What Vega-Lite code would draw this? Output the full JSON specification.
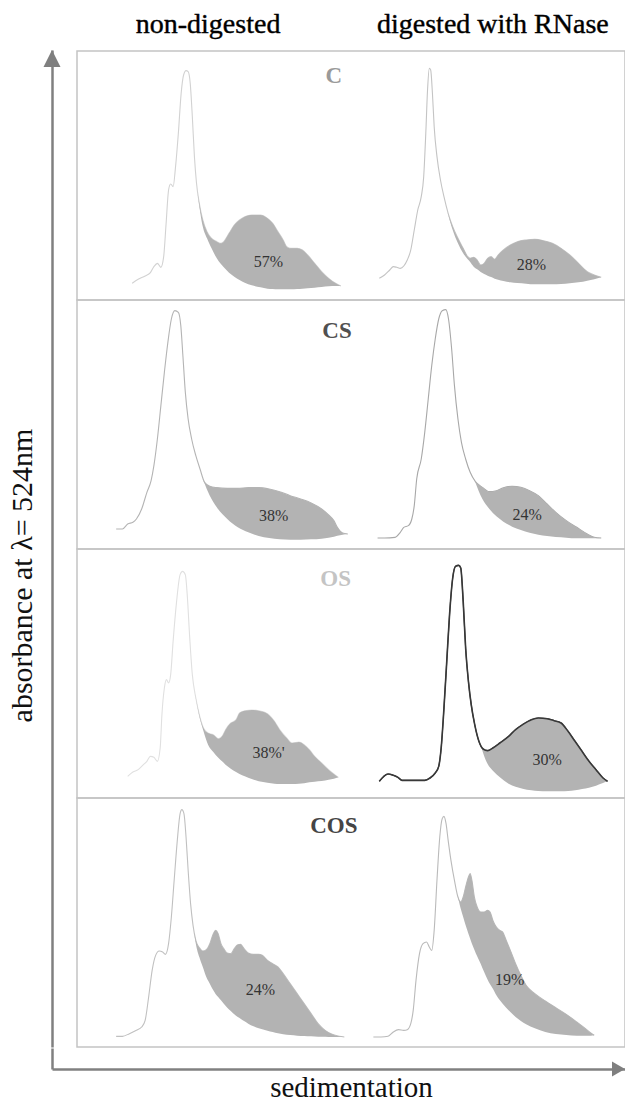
{
  "$schema": "https://vega.github.io/schema/vega-lite/v6.json",
  "padding": 0,
  "background": "white",
  "bounds": "full",
  "spacing": 0,
  "config": {"view": {"stroke": null}, "font": "Liberation Serif", "legend": {"disable": true}},
  "vconcat": [
    {
      "bounds": "flush",
      "spacing": 25,
      "hconcat": [
        {
          "width": 52,
          "height": 1047,
          "data": {"values": [{"axis": "absorbance"}]},
          "mark": {"type": "point", "shape": "M0,0L0.5,1L-0.5,1Z", "filled": true, "size": 1156, "color": "#7f7f7f", "opacity": 1, "strokeWidth": 0},
          "encoding": {
            "x": {"datum": 1, "type": "quantitative", "scale": {"domain": [0, 1], "nice": false}, "axis": null},
            "y": {"datum": 1, "type": "quantitative", "scale": {"domain": [0, 1], "range": [1047, 50], "nice": false},
              "axis": {"orient": "right", "domain": true, "domainColor": "#808080", "domainWidth": 2.5, "ticks": false, "labels": false, "grid": false,
                "title": "absorbance at λ= 524nm", "titleFont": "Liberation Serif", "titleFontSize": 30, "titleFontWeight": "normal", "titleColor": "#111111",
                "titleAngle": 270, "titleX": -30, "titleY": 575, "titleAlign": "center", "titleBaseline": "middle"}}
          }
        },
        {
          "bounds": "flush",
          "spacing": 0,
          "vconcat": [
            {
              "width": 548,
              "height": 51,
              "data": {"values": [{"panel": "header"}]},
              "layer": [
                {
                  "mark": {"type": "text", "text": "non-digested", "font": "Liberation Serif", "fontSize": 28, "fontWeight": "normal", "align": "center", "baseline": "alphabetic", "color": "#000000", "stroke": "#000000", "strokeWidth": 0.4},
                  "encoding": {
                    "x": {"datum": 375, "type": "quantitative", "scale": {"domain": [0, 1568], "nice": false}, "axis": null},
                    "y": {"datum": 0.35, "type": "quantitative", "scale": {"domain": [0, 1], "nice": false}, "axis": null}
                  }
                },
                {
                  "mark": {"type": "text", "text": "digested with RNase", "font": "Liberation Serif", "fontSize": 28, "fontWeight": "normal", "align": "center", "baseline": "alphabetic", "color": "#000000", "stroke": "#000000", "strokeWidth": 0.4},
                  "encoding": {
                    "x": {"datum": 1190, "type": "quantitative", "scale": {"domain": [0, 1568], "nice": false}, "axis": null},
                    "y": {"datum": 0.35, "type": "quantitative", "scale": {"domain": [0, 1], "nice": false}, "axis": null}
                  }
                }
              ]
            },
            {
              "data": {"values": [
{"s":"C","c":"n","k":"p","x":158,"a":50},{"s":"C","c":"n","k":"p","x":175,"a":62},{"s":"C","c":"n","k":"p","x":195,"a":72},{"s":"C","c":"n","k":"p","x":210,"a":82},{"s":"C","c":"n","k":"p","x":220,"a":100},{"s":"C","c":"n","k":"p","x":230,"a":110},{"s":"C","c":"n","k":"p","x":240,"a":98},{"s":"C","c":"n","k":"p","x":248,"a":130},{"s":"C","c":"n","k":"p","x":255,"a":230},{"s":"C","c":"n","k":"p","x":262,"a":330},{"s":"C","c":"n","k":"p","x":268,"a":348},{"s":"C","c":"n","k":"p","x":275,"a":340},{"s":"C","c":"n","k":"p","x":282,"a":400},{"s":"C","c":"n","k":"p","x":290,"a":500},{"s":"C","c":"n","k":"p","x":298,"a":620},{"s":"C","c":"n","k":"p","x":305,"a":675},{"s":"C","c":"n","k":"p","x":312,"a":688},{"s":"C","c":"n","k":"p","x":318,"a":685},{"s":"C","c":"n","k":"p","x":324,"a":650},{"s":"C","c":"n","k":"p","x":330,"a":550},{"s":"C","c":"n","k":"p","x":336,"a":430},{"s":"C","c":"n","k":"p","x":342,"a":350},{"s":"C","c":"n","k":"p","x":350,"a":290},{"s":"C","c":"n","k":"p","x":360,"a":240},{"s":"C","c":"n","k":"p","x":372,"a":205},{"s":"C","c":"n","k":"p","x":385,"a":185},{"s":"C","c":"n","k":"p","x":400,"a":175},{"s":"C","c":"n","k":"p","x":410,"a":170},{"s":"C","c":"n","k":"p","x":420,"a":175},{"s":"C","c":"n","k":"p","x":435,"a":200},{"s":"C","c":"n","k":"p","x":450,"a":225},{"s":"C","c":"n","k":"p","x":465,"a":240},{"s":"C","c":"n","k":"p","x":480,"a":250},{"s":"C","c":"n","k":"p","x":500,"a":255},{"s":"C","c":"n","k":"p","x":525,"a":255},{"s":"C","c":"n","k":"p","x":545,"a":245},{"s":"C","c":"n","k":"p","x":560,"a":230},{"s":"C","c":"n","k":"p","x":575,"a":205},{"s":"C","c":"n","k":"p","x":590,"a":180},{"s":"C","c":"n","k":"p","x":600,"a":160},{"s":"C","c":"n","k":"p","x":612,"a":155},{"s":"C","c":"n","k":"p","x":630,"a":155},{"s":"C","c":"n","k":"p","x":645,"a":150},{"s":"C","c":"n","k":"p","x":660,"a":135},{"s":"C","c":"n","k":"p","x":680,"a":110},{"s":"C","c":"n","k":"p","x":700,"a":85},{"s":"C","c":"n","k":"p","x":720,"a":65},{"s":"C","c":"n","k":"p","x":740,"a":50},{"s":"C","c":"n","k":"p","x":755,"a":42},
{"s":"C","c":"d","k":"p","x":865,"a":65},{"s":"C","c":"d","k":"p","x":880,"a":75},{"s":"C","c":"d","k":"p","x":895,"a":90},{"s":"C","c":"d","k":"p","x":905,"a":100},{"s":"C","c":"d","k":"p","x":915,"a":98},{"s":"C","c":"d","k":"p","x":925,"a":95},{"s":"C","c":"d","k":"p","x":935,"a":102},{"s":"C","c":"d","k":"p","x":945,"a":120},{"s":"C","c":"d","k":"p","x":955,"a":150},{"s":"C","c":"d","k":"p","x":965,"a":210},{"s":"C","c":"d","k":"p","x":975,"a":270},{"s":"C","c":"d","k":"p","x":985,"a":310},{"s":"C","c":"d","k":"p","x":992,"a":370},{"s":"C","c":"d","k":"p","x":998,"a":500},{"s":"C","c":"d","k":"p","x":1003,"a":630},{"s":"C","c":"d","k":"p","x":1008,"a":695},{"s":"C","c":"d","k":"p","x":1012,"a":690},{"s":"C","c":"d","k":"p","x":1017,"a":620},{"s":"C","c":"d","k":"p","x":1022,"a":520},{"s":"C","c":"d","k":"p","x":1030,"a":430},{"s":"C","c":"d","k":"p","x":1040,"a":360},{"s":"C","c":"d","k":"p","x":1050,"a":310},{"s":"C","c":"d","k":"p","x":1062,"a":260},{"s":"C","c":"d","k":"p","x":1075,"a":220},{"s":"C","c":"d","k":"p","x":1090,"a":185},{"s":"C","c":"d","k":"p","x":1105,"a":155},{"s":"C","c":"d","k":"p","x":1118,"a":130},{"s":"C","c":"d","k":"p","x":1125,"a":125},{"s":"C","c":"d","k":"p","x":1135,"a":128},{"s":"C","c":"d","k":"p","x":1145,"a":120},{"s":"C","c":"d","k":"p","x":1155,"a":105},{"s":"C","c":"d","k":"p","x":1165,"a":110},{"s":"C","c":"d","k":"p","x":1175,"a":125},{"s":"C","c":"d","k":"p","x":1185,"a":130},{"s":"C","c":"d","k":"p","x":1195,"a":122},{"s":"C","c":"d","k":"p","x":1205,"a":135},{"s":"C","c":"d","k":"p","x":1220,"a":150},{"s":"C","c":"d","k":"p","x":1240,"a":165},{"s":"C","c":"d","k":"p","x":1260,"a":175},{"s":"C","c":"d","k":"p","x":1285,"a":180},{"s":"C","c":"d","k":"p","x":1310,"a":182},{"s":"C","c":"d","k":"p","x":1335,"a":178},{"s":"C","c":"d","k":"p","x":1360,"a":170},{"s":"C","c":"d","k":"p","x":1385,"a":155},{"s":"C","c":"d","k":"p","x":1410,"a":135},{"s":"C","c":"d","k":"p","x":1435,"a":110},{"s":"C","c":"d","k":"p","x":1460,"a":85},{"s":"C","c":"d","k":"p","x":1480,"a":75},{"s":"C","c":"d","k":"p","x":1500,"a":68},
{"s":"CS","c":"n","k":"p","x":112,"a":60},{"s":"CS","c":"n","k":"p","x":130,"a":60},{"s":"CS","c":"n","k":"p","x":145,"a":75},{"s":"CS","c":"n","k":"p","x":160,"a":80},{"s":"CS","c":"n","k":"p","x":170,"a":90},{"s":"CS","c":"n","k":"p","x":185,"a":120},{"s":"CS","c":"n","k":"p","x":200,"a":170},{"s":"CS","c":"n","k":"p","x":212,"a":205},{"s":"CS","c":"n","k":"p","x":220,"a":250},{"s":"CS","c":"n","k":"p","x":230,"a":330},{"s":"CS","c":"n","k":"p","x":240,"a":430},{"s":"CS","c":"n","k":"p","x":250,"a":530},{"s":"CS","c":"n","k":"p","x":260,"a":620},{"s":"CS","c":"n","k":"p","x":270,"a":690},{"s":"CS","c":"n","k":"p","x":280,"a":715},{"s":"CS","c":"n","k":"p","x":290,"a":710},{"s":"CS","c":"n","k":"p","x":297,"a":670},{"s":"CS","c":"n","k":"p","x":303,"a":580},{"s":"CS","c":"n","k":"p","x":310,"a":470},{"s":"CS","c":"n","k":"p","x":318,"a":390},{"s":"CS","c":"n","k":"p","x":328,"a":330},{"s":"CS","c":"n","k":"p","x":340,"a":280},{"s":"CS","c":"n","k":"p","x":352,"a":240},{"s":"CS","c":"n","k":"p","x":365,"a":200},{"s":"CS","c":"n","k":"p","x":380,"a":188},{"s":"CS","c":"n","k":"p","x":400,"a":184},{"s":"CS","c":"n","k":"p","x":430,"a":182},{"s":"CS","c":"n","k":"p","x":460,"a":182},{"s":"CS","c":"n","k":"p","x":490,"a":184},{"s":"CS","c":"n","k":"p","x":520,"a":184},{"s":"CS","c":"n","k":"p","x":550,"a":180},{"s":"CS","c":"n","k":"p","x":580,"a":172},{"s":"CS","c":"n","k":"p","x":610,"a":160},{"s":"CS","c":"n","k":"p","x":640,"a":150},{"s":"CS","c":"n","k":"p","x":670,"a":138},{"s":"CS","c":"n","k":"p","x":700,"a":120},{"s":"CS","c":"n","k":"p","x":720,"a":102},{"s":"CS","c":"n","k":"p","x":735,"a":85},{"s":"CS","c":"n","k":"p","x":745,"a":65},{"s":"CS","c":"n","k":"p","x":760,"a":48},{"s":"CS","c":"n","k":"p","x":775,"a":45},
{"s":"CS","c":"d","k":"p","x":860,"a":33},{"s":"CS","c":"d","k":"p","x":880,"a":33},{"s":"CS","c":"d","k":"p","x":910,"a":35},{"s":"CS","c":"d","k":"p","x":925,"a":50},{"s":"CS","c":"d","k":"p","x":935,"a":65},{"s":"CS","c":"d","k":"p","x":948,"a":70},{"s":"CS","c":"d","k":"p","x":958,"a":90},{"s":"CS","c":"d","k":"p","x":965,"a":130},{"s":"CS","c":"d","k":"p","x":972,"a":210},{"s":"CS","c":"d","k":"p","x":985,"a":270},{"s":"CS","c":"d","k":"p","x":995,"a":350},{"s":"CS","c":"d","k":"p","x":1005,"a":450},{"s":"CS","c":"d","k":"p","x":1015,"a":550},{"s":"CS","c":"d","k":"p","x":1025,"a":630},{"s":"CS","c":"d","k":"p","x":1035,"a":690},{"s":"CS","c":"d","k":"p","x":1045,"a":715},{"s":"CS","c":"d","k":"p","x":1055,"a":718},{"s":"CS","c":"d","k":"p","x":1063,"a":690},{"s":"CS","c":"d","k":"p","x":1072,"a":600},{"s":"CS","c":"d","k":"p","x":1080,"a":490},{"s":"CS","c":"d","k":"p","x":1090,"a":390},{"s":"CS","c":"d","k":"p","x":1100,"a":320},{"s":"CS","c":"d","k":"p","x":1112,"a":270},{"s":"CS","c":"d","k":"p","x":1125,"a":230},{"s":"CS","c":"d","k":"p","x":1140,"a":202},{"s":"CS","c":"d","k":"p","x":1160,"a":185},{"s":"CS","c":"d","k":"p","x":1180,"a":172},{"s":"CS","c":"d","k":"p","x":1200,"a":175},{"s":"CS","c":"d","k":"p","x":1220,"a":184},{"s":"CS","c":"d","k":"p","x":1245,"a":188},{"s":"CS","c":"d","k":"p","x":1270,"a":185},{"s":"CS","c":"d","k":"p","x":1295,"a":175},{"s":"CS","c":"d","k":"p","x":1320,"a":160},{"s":"CS","c":"d","k":"p","x":1345,"a":135},{"s":"CS","c":"d","k":"p","x":1370,"a":110},{"s":"CS","c":"d","k":"p","x":1400,"a":85},{"s":"CS","c":"d","k":"p","x":1430,"a":65},{"s":"CS","c":"d","k":"p","x":1460,"a":45},{"s":"CS","c":"d","k":"p","x":1480,"a":35},{"s":"CS","c":"d","k":"p","x":1500,"a":33},
{"s":"OS","c":"n","k":"p","x":145,"a":65},{"s":"OS","c":"n","k":"p","x":160,"a":78},{"s":"OS","c":"n","k":"p","x":175,"a":85},{"s":"OS","c":"n","k":"p","x":190,"a":100},{"s":"OS","c":"n","k":"p","x":200,"a":110},{"s":"OS","c":"n","k":"p","x":210,"a":125},{"s":"OS","c":"n","k":"p","x":220,"a":122},{"s":"OS","c":"n","k":"p","x":230,"a":110},{"s":"OS","c":"n","k":"p","x":238,"a":150},{"s":"OS","c":"n","k":"p","x":243,"a":250},{"s":"OS","c":"n","k":"p","x":250,"a":330},{"s":"OS","c":"n","k":"p","x":256,"a":355},{"s":"OS","c":"n","k":"p","x":262,"a":345},{"s":"OS","c":"n","k":"p","x":268,"a":370},{"s":"OS","c":"n","k":"p","x":275,"a":470},{"s":"OS","c":"n","k":"p","x":285,"a":590},{"s":"OS","c":"n","k":"p","x":295,"a":670},{"s":"OS","c":"n","k":"p","x":302,"a":680},{"s":"OS","c":"n","k":"p","x":310,"a":670},{"s":"OS","c":"n","k":"p","x":316,"a":600},{"s":"OS","c":"n","k":"p","x":322,"a":490},{"s":"OS","c":"n","k":"p","x":330,"a":370},{"s":"OS","c":"n","k":"p","x":340,"a":300},{"s":"OS","c":"n","k":"p","x":350,"a":250},{"s":"OS","c":"n","k":"p","x":362,"a":210},{"s":"OS","c":"n","k":"p","x":375,"a":195},{"s":"OS","c":"n","k":"p","x":390,"a":190},{"s":"OS","c":"n","k":"p","x":405,"a":178},{"s":"OS","c":"n","k":"p","x":415,"a":185},{"s":"OS","c":"n","k":"p","x":425,"a":205},{"s":"OS","c":"n","k":"p","x":440,"a":225},{"s":"OS","c":"n","k":"p","x":455,"a":235},{"s":"OS","c":"n","k":"p","x":465,"a":255},{"s":"OS","c":"n","k":"p","x":480,"a":262},{"s":"OS","c":"n","k":"p","x":500,"a":264},{"s":"OS","c":"n","k":"p","x":520,"a":262},{"s":"OS","c":"n","k":"p","x":545,"a":253},{"s":"OS","c":"n","k":"p","x":565,"a":230},{"s":"OS","c":"n","k":"p","x":580,"a":205},{"s":"OS","c":"n","k":"p","x":600,"a":180},{"s":"OS","c":"n","k":"p","x":615,"a":165},{"s":"OS","c":"n","k":"p","x":635,"a":168},{"s":"OS","c":"n","k":"p","x":650,"a":160},{"s":"OS","c":"n","k":"p","x":665,"a":145},{"s":"OS","c":"n","k":"p","x":680,"a":125},{"s":"OS","c":"n","k":"p","x":700,"a":105},{"s":"OS","c":"n","k":"p","x":720,"a":85},{"s":"OS","c":"n","k":"p","x":735,"a":72},{"s":"OS","c":"n","k":"p","x":748,"a":62},
{"s":"OS","c":"d","k":"p","x":865,"a":50},{"s":"OS","c":"d","k":"p","x":878,"a":65},{"s":"OS","c":"d","k":"p","x":890,"a":72},{"s":"OS","c":"d","k":"p","x":905,"a":68},{"s":"OS","c":"d","k":"p","x":918,"a":62},{"s":"OS","c":"d","k":"p","x":930,"a":53},{"s":"OS","c":"d","k":"p","x":960,"a":53},{"s":"OS","c":"d","k":"p","x":995,"a":53},{"s":"OS","c":"d","k":"p","x":1010,"a":60},{"s":"OS","c":"d","k":"p","x":1025,"a":75},{"s":"OS","c":"d","k":"p","x":1035,"a":95},{"s":"OS","c":"d","k":"p","x":1042,"a":150},{"s":"OS","c":"d","k":"p","x":1050,"a":270},{"s":"OS","c":"d","k":"p","x":1058,"a":410},{"s":"OS","c":"d","k":"p","x":1066,"a":550},{"s":"OS","c":"d","k":"p","x":1075,"a":660},{"s":"OS","c":"d","k":"p","x":1083,"a":695},{"s":"OS","c":"d","k":"p","x":1092,"a":698},{"s":"OS","c":"d","k":"p","x":1098,"a":690},{"s":"OS","c":"d","k":"p","x":1105,"a":590},{"s":"OS","c":"d","k":"p","x":1112,"a":450},{"s":"OS","c":"d","k":"p","x":1120,"a":350},{"s":"OS","c":"d","k":"p","x":1128,"a":280},{"s":"OS","c":"d","k":"p","x":1138,"a":220},{"s":"OS","c":"d","k":"p","x":1150,"a":170},{"s":"OS","c":"d","k":"p","x":1162,"a":147},{"s":"OS","c":"d","k":"p","x":1175,"a":142},{"s":"OS","c":"d","k":"p","x":1190,"a":150},{"s":"OS","c":"d","k":"p","x":1210,"a":165},{"s":"OS","c":"d","k":"p","x":1235,"a":185},{"s":"OS","c":"d","k":"p","x":1255,"a":205},{"s":"OS","c":"d","k":"p","x":1275,"a":220},{"s":"OS","c":"d","k":"p","x":1300,"a":235},{"s":"OS","c":"d","k":"p","x":1320,"a":240},{"s":"OS","c":"d","k":"p","x":1345,"a":238},{"s":"OS","c":"d","k":"p","x":1365,"a":232},{"s":"OS","c":"d","k":"p","x":1385,"a":225},{"s":"OS","c":"d","k":"p","x":1405,"a":200},{"s":"OS","c":"d","k":"p","x":1425,"a":170},{"s":"OS","c":"d","k":"p","x":1445,"a":140},{"s":"OS","c":"d","k":"p","x":1465,"a":110},{"s":"OS","c":"d","k":"p","x":1485,"a":85},{"s":"OS","c":"d","k":"p","x":1505,"a":60},{"s":"OS","c":"d","k":"p","x":1518,"a":50},
{"s":"COS","c":"n","k":"p","x":112,"a":32},{"s":"COS","c":"n","k":"p","x":130,"a":32},{"s":"COS","c":"n","k":"p","x":150,"a":40},{"s":"COS","c":"n","k":"p","x":170,"a":50},{"s":"COS","c":"n","k":"p","x":185,"a":60},{"s":"COS","c":"n","k":"p","x":195,"a":80},{"s":"COS","c":"n","k":"p","x":205,"a":150},{"s":"COS","c":"n","k":"p","x":215,"a":230},{"s":"COS","c":"n","k":"p","x":225,"a":275},{"s":"COS","c":"n","k":"p","x":235,"a":288},{"s":"COS","c":"n","k":"p","x":245,"a":285},{"s":"COS","c":"n","k":"p","x":253,"a":278},{"s":"COS","c":"n","k":"p","x":262,"a":310},{"s":"COS","c":"n","k":"p","x":270,"a":390},{"s":"COS","c":"n","k":"p","x":278,"a":500},{"s":"COS","c":"n","k":"p","x":287,"a":620},{"s":"COS","c":"n","k":"p","x":295,"a":700},{"s":"COS","c":"n","k":"p","x":300,"a":712},{"s":"COS","c":"n","k":"p","x":306,"a":700},{"s":"COS","c":"n","k":"p","x":312,"a":630},{"s":"COS","c":"n","k":"p","x":318,"a":530},{"s":"COS","c":"n","k":"p","x":325,"a":430},{"s":"COS","c":"n","k":"p","x":332,"a":365},{"s":"COS","c":"n","k":"p","x":340,"a":320},{"s":"COS","c":"n","k":"p","x":350,"a":298},{"s":"COS","c":"n","k":"p","x":360,"a":288},{"s":"COS","c":"n","k":"p","x":370,"a":292},{"s":"COS","c":"n","k":"p","x":380,"a":310},{"s":"COS","c":"n","k":"p","x":390,"a":340},{"s":"COS","c":"n","k":"p","x":397,"a":350},{"s":"COS","c":"n","k":"p","x":404,"a":340},{"s":"COS","c":"n","k":"p","x":412,"a":310},{"s":"COS","c":"n","k":"p","x":420,"a":295},{"s":"COS","c":"n","k":"p","x":430,"a":282},{"s":"COS","c":"n","k":"p","x":440,"a":280},{"s":"COS","c":"n","k":"p","x":450,"a":295},{"s":"COS","c":"n","k":"p","x":460,"a":307},{"s":"COS","c":"n","k":"p","x":468,"a":308},{"s":"COS","c":"n","k":"p","x":478,"a":295},{"s":"COS","c":"n","k":"p","x":490,"a":282},{"s":"COS","c":"n","k":"p","x":505,"a":278},{"s":"COS","c":"n","k":"p","x":520,"a":278},{"s":"COS","c":"n","k":"p","x":530,"a":275},{"s":"COS","c":"n","k":"p","x":545,"a":260},{"s":"COS","c":"n","k":"p","x":560,"a":250},{"s":"COS","c":"n","k":"p","x":575,"a":240},{"s":"COS","c":"n","k":"p","x":590,"a":220},{"s":"COS","c":"n","k":"p","x":610,"a":190},{"s":"COS","c":"n","k":"p","x":630,"a":160},{"s":"COS","c":"n","k":"p","x":650,"a":130},{"s":"COS","c":"n","k":"p","x":670,"a":100},{"s":"COS","c":"n","k":"p","x":690,"a":70},{"s":"COS","c":"n","k":"p","x":710,"a":50},{"s":"COS","c":"n","k":"p","x":730,"a":38},{"s":"COS","c":"n","k":"p","x":750,"a":32},{"s":"COS","c":"n","k":"p","x":765,"a":30},
{"s":"COS","c":"d","k":"p","x":848,"a":30},{"s":"COS","c":"d","k":"p","x":870,"a":30},{"s":"COS","c":"d","k":"p","x":890,"a":32},{"s":"COS","c":"d","k":"p","x":905,"a":45},{"s":"COS","c":"d","k":"p","x":920,"a":52},{"s":"COS","c":"d","k":"p","x":935,"a":50},{"s":"COS","c":"d","k":"p","x":945,"a":52},{"s":"COS","c":"d","k":"p","x":955,"a":70},{"s":"COS","c":"d","k":"p","x":962,"a":110},{"s":"COS","c":"d","k":"p","x":970,"a":200},{"s":"COS","c":"d","k":"p","x":980,"a":280},{"s":"COS","c":"d","k":"p","x":990,"a":310},{"s":"COS","c":"d","k":"p","x":1000,"a":315},{"s":"COS","c":"d","k":"p","x":1008,"a":300},{"s":"COS","c":"d","k":"p","x":1015,"a":290},{"s":"COS","c":"d","k":"p","x":1022,"a":350},{"s":"COS","c":"d","k":"p","x":1030,"a":500},{"s":"COS","c":"d","k":"p","x":1038,"a":630},{"s":"COS","c":"d","k":"p","x":1045,"a":685},{"s":"COS","c":"d","k":"p","x":1050,"a":692},{"s":"COS","c":"d","k":"p","x":1056,"a":670},{"s":"COS","c":"d","k":"p","x":1062,"a":620},{"s":"COS","c":"d","k":"p","x":1070,"a":560},{"s":"COS","c":"d","k":"p","x":1080,"a":500},{"s":"COS","c":"d","k":"p","x":1090,"a":450},{"s":"COS","c":"d","k":"p","x":1098,"a":435},{"s":"COS","c":"d","k":"p","x":1105,"a":450},{"s":"COS","c":"d","k":"p","x":1112,"a":480},{"s":"COS","c":"d","k":"p","x":1120,"a":510},{"s":"COS","c":"d","k":"p","x":1125,"a":520},{"s":"COS","c":"d","k":"p","x":1130,"a":500},{"s":"COS","c":"d","k":"p","x":1137,"a":450},{"s":"COS","c":"d","k":"p","x":1145,"a":420},{"s":"COS","c":"d","k":"p","x":1155,"a":405},{"s":"COS","c":"d","k":"p","x":1165,"a":405},{"s":"COS","c":"d","k":"p","x":1175,"a":410},{"s":"COS","c":"d","k":"p","x":1182,"a":405},{"s":"COS","c":"d","k":"p","x":1190,"a":380},{"s":"COS","c":"d","k":"p","x":1200,"a":360},{"s":"COS","c":"d","k":"p","x":1210,"a":350},{"s":"COS","c":"d","k":"p","x":1218,"a":345},{"s":"COS","c":"d","k":"p","x":1228,"a":320},{"s":"COS","c":"d","k":"p","x":1240,"a":290},{"s":"COS","c":"d","k":"p","x":1255,"a":250},{"s":"COS","c":"d","k":"p","x":1270,"a":215},{"s":"COS","c":"d","k":"p","x":1285,"a":185},{"s":"COS","c":"d","k":"p","x":1310,"a":160},{"s":"COS","c":"d","k":"p","x":1340,"a":138},{"s":"COS","c":"d","k":"p","x":1370,"a":118},{"s":"COS","c":"d","k":"p","x":1400,"a":98},{"s":"COS","c":"d","k":"p","x":1430,"a":75},{"s":"COS","c":"d","k":"p","x":1455,"a":55},{"s":"COS","c":"d","k":"p","x":1470,"a":42},{"s":"COS","c":"d","k":"p","x":1480,"a":35},
{"s":"C","c":"n","k":"f","x":345,"a":320,"b":320},{"s":"C","c":"n","k":"f","x":360,"a":240,"b":220},{"s":"C","c":"n","k":"f","x":372,"a":205,"b":185},{"s":"C","c":"n","k":"f","x":385,"a":185,"b":155},{"s":"C","c":"n","k":"f","x":400,"a":175,"b":125},{"s":"C","c":"n","k":"f","x":410,"a":170,"b":110},{"s":"C","c":"n","k":"f","x":420,"a":175,"b":98},{"s":"C","c":"n","k":"f","x":435,"a":200,"b":82},{"s":"C","c":"n","k":"f","x":450,"a":225,"b":70},{"s":"C","c":"n","k":"f","x":465,"a":240,"b":60},{"s":"C","c":"n","k":"f","x":480,"a":250,"b":52},{"s":"C","c":"n","k":"f","x":500,"a":255,"b":44},{"s":"C","c":"n","k":"f","x":525,"a":255,"b":38},{"s":"C","c":"n","k":"f","x":545,"a":245,"b":34},{"s":"C","c":"n","k":"f","x":560,"a":230,"b":33},{"s":"C","c":"n","k":"f","x":575,"a":205,"b":32},{"s":"C","c":"n","k":"f","x":590,"a":180,"b":32},{"s":"C","c":"n","k":"f","x":600,"a":160,"b":32},{"s":"C","c":"n","k":"f","x":612,"a":155,"b":32},{"s":"C","c":"n","k":"f","x":630,"a":155,"b":33},{"s":"C","c":"n","k":"f","x":645,"a":150,"b":34},{"s":"C","c":"n","k":"f","x":660,"a":135,"b":35},{"s":"C","c":"n","k":"f","x":680,"a":110,"b":37},{"s":"C","c":"n","k":"f","x":700,"a":85,"b":39},{"s":"C","c":"n","k":"f","x":720,"a":65,"b":41},{"s":"C","c":"n","k":"f","x":740,"a":50,"b":42},{"s":"C","c":"n","k":"f","x":755,"a":42,"b":42},
{"s":"C","c":"d","k":"f","x":1060,"a":265,"b":265},{"s":"C","c":"d","k":"f","x":1075,"a":220,"b":210},{"s":"C","c":"d","k":"f","x":1090,"a":185,"b":170},{"s":"C","c":"d","k":"f","x":1105,"a":155,"b":140},{"s":"C","c":"d","k":"f","x":1118,"a":130,"b":122},{"s":"C","c":"d","k":"f","x":1125,"a":125,"b":114},{"s":"C","c":"d","k":"f","x":1135,"a":128,"b":100},{"s":"C","c":"d","k":"f","x":1145,"a":120,"b":92},{"s":"C","c":"d","k":"f","x":1155,"a":105,"b":84},{"s":"C","c":"d","k":"f","x":1165,"a":110,"b":78},{"s":"C","c":"d","k":"f","x":1175,"a":125,"b":73},{"s":"C","c":"d","k":"f","x":1185,"a":130,"b":69},{"s":"C","c":"d","k":"f","x":1195,"a":122,"b":64},{"s":"C","c":"d","k":"f","x":1205,"a":135,"b":61},{"s":"C","c":"d","k":"f","x":1220,"a":150,"b":57},{"s":"C","c":"d","k":"f","x":1240,"a":165,"b":53},{"s":"C","c":"d","k":"f","x":1260,"a":175,"b":51},{"s":"C","c":"d","k":"f","x":1285,"a":180,"b":49},{"s":"C","c":"d","k":"f","x":1310,"a":182,"b":47},{"s":"C","c":"d","k":"f","x":1335,"a":178,"b":47},{"s":"C","c":"d","k":"f","x":1360,"a":170,"b":47},{"s":"C","c":"d","k":"f","x":1385,"a":155,"b":48},{"s":"C","c":"d","k":"f","x":1410,"a":135,"b":50},{"s":"C","c":"d","k":"f","x":1435,"a":110,"b":53},{"s":"C","c":"d","k":"f","x":1460,"a":85,"b":58},{"s":"C","c":"d","k":"f","x":1480,"a":75,"b":62},{"s":"C","c":"d","k":"f","x":1500,"a":68,"b":68},
{"s":"CS","c":"n","k":"f","x":362,"a":205,"b":205},{"s":"CS","c":"n","k":"f","x":380,"a":188,"b":160},{"s":"CS","c":"n","k":"f","x":400,"a":184,"b":125},{"s":"CS","c":"n","k":"f","x":430,"a":182,"b":90},{"s":"CS","c":"n","k":"f","x":460,"a":182,"b":65},{"s":"CS","c":"n","k":"f","x":490,"a":184,"b":50},{"s":"CS","c":"n","k":"f","x":520,"a":184,"b":39},{"s":"CS","c":"n","k":"f","x":550,"a":180,"b":33},{"s":"CS","c":"n","k":"f","x":580,"a":172,"b":29},{"s":"CS","c":"n","k":"f","x":610,"a":160,"b":28},{"s":"CS","c":"n","k":"f","x":640,"a":150,"b":28},{"s":"CS","c":"n","k":"f","x":670,"a":138,"b":29},{"s":"CS","c":"n","k":"f","x":700,"a":120,"b":31},{"s":"CS","c":"n","k":"f","x":720,"a":102,"b":34},{"s":"CS","c":"n","k":"f","x":735,"a":85,"b":37},{"s":"CS","c":"n","k":"f","x":745,"a":65,"b":40},{"s":"CS","c":"n","k":"f","x":760,"a":48,"b":43},{"s":"CS","c":"n","k":"f","x":775,"a":45,"b":45},
{"s":"CS","c":"d","k":"f","x":1138,"a":205,"b":205},{"s":"CS","c":"d","k":"f","x":1160,"a":185,"b":150},{"s":"CS","c":"d","k":"f","x":1180,"a":172,"b":120},{"s":"CS","c":"d","k":"f","x":1200,"a":175,"b":98},{"s":"CS","c":"d","k":"f","x":1220,"a":184,"b":82},{"s":"CS","c":"d","k":"f","x":1245,"a":188,"b":67},{"s":"CS","c":"d","k":"f","x":1270,"a":185,"b":57},{"s":"CS","c":"d","k":"f","x":1295,"a":175,"b":49},{"s":"CS","c":"d","k":"f","x":1320,"a":160,"b":43},{"s":"CS","c":"d","k":"f","x":1345,"a":135,"b":39},{"s":"CS","c":"d","k":"f","x":1370,"a":110,"b":36},{"s":"CS","c":"d","k":"f","x":1400,"a":85,"b":34},{"s":"CS","c":"d","k":"f","x":1430,"a":65,"b":32},{"s":"CS","c":"d","k":"f","x":1460,"a":45,"b":32},{"s":"CS","c":"d","k":"f","x":1480,"a":35,"b":32},{"s":"CS","c":"d","k":"f","x":1500,"a":33,"b":33},
{"s":"OS","c":"n","k":"f","x":338,"a":312,"b":312},{"s":"OS","c":"n","k":"f","x":350,"a":250,"b":245},{"s":"OS","c":"n","k":"f","x":362,"a":210,"b":200},{"s":"OS","c":"n","k":"f","x":375,"a":195,"b":160},{"s":"OS","c":"n","k":"f","x":390,"a":190,"b":138},{"s":"OS","c":"n","k":"f","x":405,"a":178,"b":120},{"s":"OS","c":"n","k":"f","x":415,"a":185,"b":110},{"s":"OS","c":"n","k":"f","x":425,"a":205,"b":100},{"s":"OS","c":"n","k":"f","x":440,"a":225,"b":88},{"s":"OS","c":"n","k":"f","x":455,"a":235,"b":78},{"s":"OS","c":"n","k":"f","x":465,"a":255,"b":72},{"s":"OS","c":"n","k":"f","x":480,"a":262,"b":65},{"s":"OS","c":"n","k":"f","x":500,"a":264,"b":57},{"s":"OS","c":"n","k":"f","x":520,"a":262,"b":50},{"s":"OS","c":"n","k":"f","x":545,"a":253,"b":46},{"s":"OS","c":"n","k":"f","x":565,"a":230,"b":43},{"s":"OS","c":"n","k":"f","x":580,"a":205,"b":42},{"s":"OS","c":"n","k":"f","x":600,"a":180,"b":42},{"s":"OS","c":"n","k":"f","x":615,"a":165,"b":42},{"s":"OS","c":"n","k":"f","x":635,"a":168,"b":43},{"s":"OS","c":"n","k":"f","x":650,"a":160,"b":44},{"s":"OS","c":"n","k":"f","x":665,"a":145,"b":47},{"s":"OS","c":"n","k":"f","x":680,"a":125,"b":49},{"s":"OS","c":"n","k":"f","x":700,"a":105,"b":51},{"s":"OS","c":"n","k":"f","x":720,"a":85,"b":55},{"s":"OS","c":"n","k":"f","x":735,"a":72,"b":58},{"s":"OS","c":"n","k":"f","x":748,"a":62,"b":62},
{"s":"OS","c":"d","k":"f","x":1155,"a":160,"b":160},{"s":"OS","c":"d","k":"f","x":1162,"a":147,"b":135},{"s":"OS","c":"d","k":"f","x":1175,"a":142,"b":102},{"s":"OS","c":"d","k":"f","x":1190,"a":150,"b":82},{"s":"OS","c":"d","k":"f","x":1210,"a":165,"b":62},{"s":"OS","c":"d","k":"f","x":1235,"a":185,"b":43},{"s":"OS","c":"d","k":"f","x":1255,"a":205,"b":34},{"s":"OS","c":"d","k":"f","x":1275,"a":220,"b":28},{"s":"OS","c":"d","k":"f","x":1300,"a":235,"b":23},{"s":"OS","c":"d","k":"f","x":1320,"a":240,"b":21},{"s":"OS","c":"d","k":"f","x":1345,"a":238,"b":20},{"s":"OS","c":"d","k":"f","x":1365,"a":232,"b":20},{"s":"OS","c":"d","k":"f","x":1385,"a":225,"b":20},{"s":"OS","c":"d","k":"f","x":1405,"a":200,"b":21},{"s":"OS","c":"d","k":"f","x":1425,"a":170,"b":23},{"s":"OS","c":"d","k":"f","x":1445,"a":140,"b":27},{"s":"OS","c":"d","k":"f","x":1465,"a":110,"b":31},{"s":"OS","c":"d","k":"f","x":1485,"a":85,"b":37},{"s":"OS","c":"d","k":"f","x":1505,"a":60,"b":45},{"s":"OS","c":"d","k":"f","x":1518,"a":50,"b":50},
{"s":"COS","c":"n","k":"f","x":335,"a":345,"b":345},{"s":"COS","c":"n","k":"f","x":340,"a":320,"b":310},{"s":"COS","c":"n","k":"f","x":350,"a":298,"b":270},{"s":"COS","c":"n","k":"f","x":360,"a":288,"b":240},{"s":"COS","c":"n","k":"f","x":370,"a":292,"b":210},{"s":"COS","c":"n","k":"f","x":380,"a":310,"b":190},{"s":"COS","c":"n","k":"f","x":390,"a":340,"b":170},{"s":"COS","c":"n","k":"f","x":397,"a":350,"b":158},{"s":"COS","c":"n","k":"f","x":404,"a":340,"b":150},{"s":"COS","c":"n","k":"f","x":412,"a":310,"b":140},{"s":"COS","c":"n","k":"f","x":420,"a":295,"b":130},{"s":"COS","c":"n","k":"f","x":430,"a":282,"b":118},{"s":"COS","c":"n","k":"f","x":440,"a":280,"b":108},{"s":"COS","c":"n","k":"f","x":450,"a":295,"b":98},{"s":"COS","c":"n","k":"f","x":460,"a":307,"b":90},{"s":"COS","c":"n","k":"f","x":468,"a":308,"b":85},{"s":"COS","c":"n","k":"f","x":478,"a":295,"b":78},{"s":"COS","c":"n","k":"f","x":490,"a":282,"b":70},{"s":"COS","c":"n","k":"f","x":505,"a":278,"b":62},{"s":"COS","c":"n","k":"f","x":520,"a":278,"b":56},{"s":"COS","c":"n","k":"f","x":530,"a":275,"b":53},{"s":"COS","c":"n","k":"f","x":545,"a":260,"b":49},{"s":"COS","c":"n","k":"f","x":560,"a":250,"b":45},{"s":"COS","c":"n","k":"f","x":575,"a":240,"b":41},{"s":"COS","c":"n","k":"f","x":590,"a":220,"b":38},{"s":"COS","c":"n","k":"f","x":610,"a":190,"b":36},{"s":"COS","c":"n","k":"f","x":630,"a":160,"b":34},{"s":"COS","c":"n","k":"f","x":650,"a":130,"b":33},{"s":"COS","c":"n","k":"f","x":670,"a":100,"b":32},{"s":"COS","c":"n","k":"f","x":690,"a":70,"b":31},{"s":"COS","c":"n","k":"f","x":710,"a":50,"b":31},{"s":"COS","c":"n","k":"f","x":730,"a":38,"b":30},{"s":"COS","c":"n","k":"f","x":750,"a":32,"b":30},{"s":"COS","c":"n","k":"f","x":765,"a":30,"b":30},
{"s":"COS","c":"d","k":"f","x":1088,"a":460,"b":460},{"s":"COS","c":"d","k":"f","x":1098,"a":435,"b":415},{"s":"COS","c":"d","k":"f","x":1105,"a":450,"b":390},{"s":"COS","c":"d","k":"f","x":1112,"a":480,"b":365},{"s":"COS","c":"d","k":"f","x":1120,"a":510,"b":340},{"s":"COS","c":"d","k":"f","x":1125,"a":520,"b":325},{"s":"COS","c":"d","k":"f","x":1130,"a":500,"b":310},{"s":"COS","c":"d","k":"f","x":1137,"a":450,"b":292},{"s":"COS","c":"d","k":"f","x":1145,"a":420,"b":272},{"s":"COS","c":"d","k":"f","x":1155,"a":405,"b":250},{"s":"COS","c":"d","k":"f","x":1165,"a":405,"b":225},{"s":"COS","c":"d","k":"f","x":1175,"a":410,"b":202},{"s":"COS","c":"d","k":"f","x":1182,"a":405,"b":188},{"s":"COS","c":"d","k":"f","x":1190,"a":380,"b":175},{"s":"COS","c":"d","k":"f","x":1200,"a":360,"b":155},{"s":"COS","c":"d","k":"f","x":1210,"a":350,"b":140},{"s":"COS","c":"d","k":"f","x":1218,"a":345,"b":130},{"s":"COS","c":"d","k":"f","x":1228,"a":320,"b":118},{"s":"COS","c":"d","k":"f","x":1240,"a":290,"b":105},{"s":"COS","c":"d","k":"f","x":1255,"a":250,"b":90},{"s":"COS","c":"d","k":"f","x":1270,"a":215,"b":78},{"s":"COS","c":"d","k":"f","x":1285,"a":185,"b":68},{"s":"COS","c":"d","k":"f","x":1310,"a":160,"b":56},{"s":"COS","c":"d","k":"f","x":1340,"a":138,"b":45},{"s":"COS","c":"d","k":"f","x":1370,"a":118,"b":39},{"s":"COS","c":"d","k":"f","x":1400,"a":98,"b":36},{"s":"COS","c":"d","k":"f","x":1430,"a":75,"b":34},{"s":"COS","c":"d","k":"f","x":1455,"a":55,"b":34},{"s":"COS","c":"d","k":"f","x":1470,"a":42,"b":34},{"s":"COS","c":"d","k":"f","x":1480,"a":35,"b":35},
{"s":"C","c":"n","k":"t","x":548,"a":115,"t":"57%"},{"s":"C","c":"d","k":"t","x":1300,"a":105,"t":"28%"},
{"s":"CS","c":"n","k":"t","x":563,"a":98,"t":"38%"},{"s":"CS","c":"d","k":"t","x":1288,"a":102,"t":"24%"},
{"s":"OS","c":"n","k":"t","x":548,"a":135,"t":"38%'"},{"s":"OS","c":"d","k":"t","x":1345,"a":115,"t":"30%"},
{"s":"COS","c":"n","k":"t","x":525,"a":170,"t":"24%"},{"s":"COS","c":"d","k":"t","x":1238,"a":200,"t":"19%"},
{"s":"C","k":"n","x":735,"a":651,"t":"C"},{"s":"CS","k":"n","x":744,"a":633,"t":"CS"},{"s":"OS","k":"n","x":740,"a":636,"t":"OS"},{"s":"COS","k":"n","x":735,"a":642,"t":"COS"}
              ]},
              "facet": {"row": {"field": "s", "type": "nominal", "sort": ["C", "CS", "OS", "COS"], "header": {"labels": false, "title": null, "labelPadding": 0, "titlePadding": 0}}},
              "spacing": 0,
              "bounds": "flush",
              "spec": {
                "width": 548,
                "height": 249,
                "view": {"stroke": "#c4c4c4", "strokeWidth": 1.5},
                "layer": [
                  {
                    "transform": [{"filter": "datum.k == 'p'"}, {"calculate": "datum.s + '-' + datum.c", "as": "g"}],
                    "mark": {"type": "line", "interpolate": "monotone"},
                    "encoding": {
                      "x": {"field": "x", "type": "quantitative", "scale": {"domain": [0, 1568], "nice": false, "zero": false}, "axis": null},
                      "y": {"field": "a", "type": "quantitative", "scale": {"domain": [0, 747], "nice": false, "zero": false}, "axis": null},
                      "stroke": {"field": "g", "type": "nominal", "legend": null,
                        "scale": {"domain": ["C-n", "C-d", "CS-n", "CS-d", "OS-n", "OS-d", "COS-n", "COS-d"],
                                  "range": ["#d2d2d2", "#c4c4c4", "#b4b4b4", "#a8a8a8", "#e0e0e0", "#383838", "#c0c0c0", "#bababa"]}},
                      "strokeWidth": {"field": "g", "type": "nominal", "legend": null,
                        "scale": {"domain": ["C-n", "C-d", "CS-n", "CS-d", "OS-n", "OS-d", "COS-n", "COS-d"],
                                  "range": [1.1, 1.1, 1.1, 1.1, 1.1, 1.6, 1.1, 1.1]}}
                    }
                  },
                  {
                    "transform": [{"filter": "datum.k == 'f'"}],
                    "mark": {"type": "area", "interpolate": "monotone", "color": "#b3b3b3", "opacity": 1},
                    "encoding": {
                      "x": {"field": "x", "type": "quantitative"},
                      "y": {"field": "a", "type": "quantitative", "stack": null},
                      "y2": {"field": "b"},
                      "detail": {"field": "c", "type": "nominal"}
                    }
                  },
                  {
                    "transform": [{"filter": "datum.k == 'p' && datum.s == 'OS' && datum.c == 'd'"}],
                    "mark": {"type": "line", "interpolate": "monotone", "color": "#383838", "strokeWidth": 1.6},
                    "encoding": {
                      "x": {"field": "x", "type": "quantitative"},
                      "y": {"field": "a", "type": "quantitative"}
                    }
                  },
                  {
                    "transform": [{"filter": "datum.k == 't'"}],
                    "mark": {"type": "text", "font": "Liberation Serif", "fontSize": 16, "color": "#333333", "align": "center", "baseline": "middle"},
                    "encoding": {
                      "x": {"field": "x", "type": "quantitative"},
                      "y": {"field": "a", "type": "quantitative"},
                      "text": {"field": "t"}
                    }
                  },
                  {
                    "transform": [{"filter": "datum.k == 'n'"}],
                    "mark": {"type": "text", "font": "Liberation Serif", "fontSize": 23, "fontWeight": "bold", "align": "center", "baseline": "alphabetic"},
                    "encoding": {
                      "x": {"field": "x", "type": "quantitative"},
                      "y": {"field": "a", "type": "quantitative"},
                      "text": {"field": "t"},
                      "fill": {"field": "t", "type": "nominal", "legend": null,
                        "scale": {"domain": ["C", "CS", "OS", "COS"], "range": ["#9a9a9a", "#505050", "#c4c4c4", "#454545"]}}
                    }
                  }
                ]
              }
            }
          ]
        }
      ]
    },
    {
      "width": 625,
      "height": 57,
      "data": {"values": [{"axis": "sedimentation"}]},
      "mark": {"type": "point", "shape": "M0,0L-1,-0.58L-1,0.58Z", "filled": true, "size": 676, "color": "#7f7f7f", "opacity": 1, "strokeWidth": 0},
      "encoding": {
        "x": {"datum": 1, "type": "quantitative", "scale": {"domain": [0, 1], "range": [52, 625], "nice": false},
          "axis": {"orient": "top", "offset": -21, "domain": true, "domainColor": "#808080", "domainWidth": 2.5, "ticks": false, "labels": false, "grid": false,
            "title": "sedimentation", "titleFont": "Liberation Serif", "titleFontSize": 29, "titleFontWeight": "normal", "titleColor": "#111111",
            "titleX": 351, "titleY": 27, "titleAlign": "center", "titleBaseline": "alphabetic", "titleAngle": 0}},
        "y": {"datum": 0, "type": "quantitative", "scale": {"domain": [0, 1], "range": [21, 0], "nice": false},
          "axis": {"orient": "left", "offset": -52, "domain": true, "domainColor": "#808080", "domainWidth": 2.5, "ticks": false, "labels": false, "grid": false, "title": null}}
      }
    }
  ]
}
